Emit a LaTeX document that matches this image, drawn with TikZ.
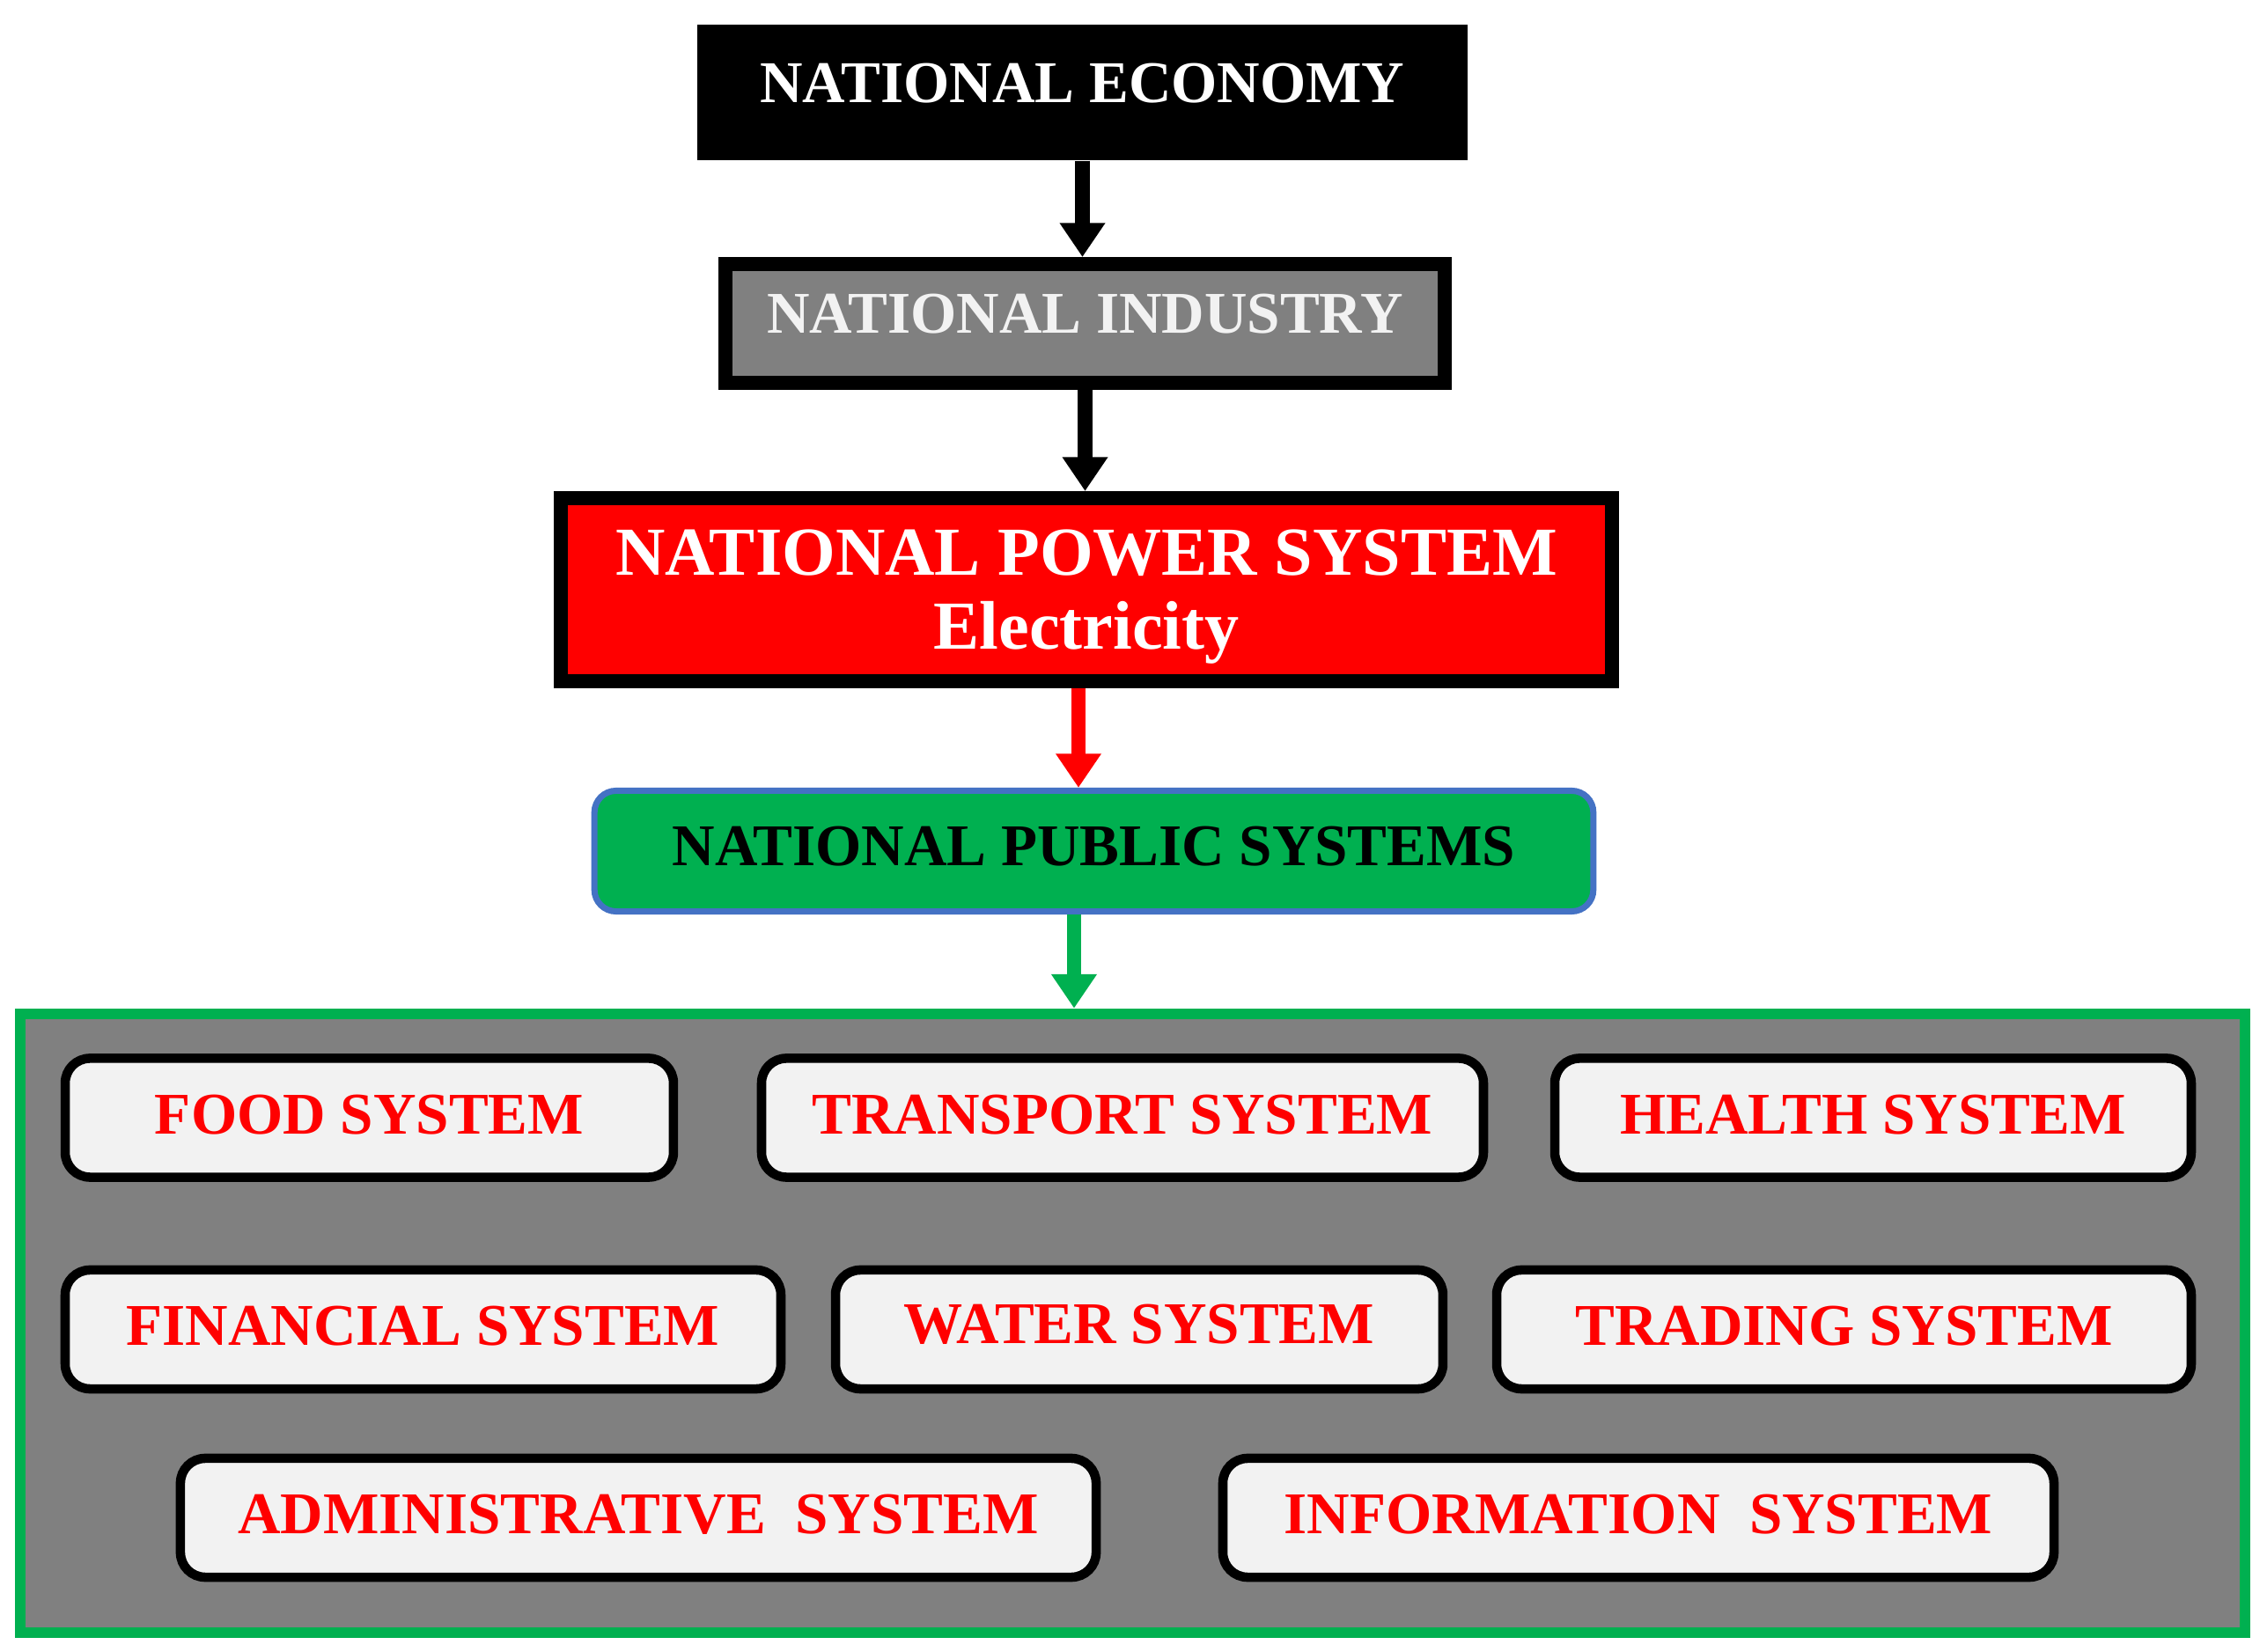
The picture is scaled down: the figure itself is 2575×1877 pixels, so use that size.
\documentclass[tikz,border=0pt]{standalone}
\usepackage{fontspec}
\setmainfont{Liberation Serif}
\usetikzlibrary{arrows.meta}
\definecolor{pgreen}{HTML}{00B050}
\definecolor{pblue}{HTML}{4472C4}
\definecolor{pgray}{HTML}{808080}
\definecolor{plight}{HTML}{F2F2F2}
\definecolor{pred}{HTML}{FF0000}
\tikzset{
 box/.style={font=\fontsize{19.1}{22}\selectfont\bfseries, inner sep=0pt, align=center, text height=12.9pt},
 sysbox/.style={box, draw=black, line width=3pt, fill=plight, rounded corners=8pt, text=pred, minimum height=1.35cm, text depth=2.5pt},
 flow/.style={line width=4.7pt, -{Triangle[width=14pt,length=11pt]}},
}
\begin{document}
\begin{tikzpicture}[x=0.01cm,y=-0.01cm]
\useasboundingbox (0,0) rectangle (2575,1877);
% top chain
\node[box, fill=black, text=white, minimum width=8.75cm, minimum height=1.54cm, text depth=6.2pt] (econ) at (1229.5,105) {NATIONAL ECONOMY};
\node[box, fill=pgray, draw=black, line width=4.5pt, text=plight, minimum width=8.17cm, minimum height=1.35cm, text depth=6.6pt] (ind) at (1232.5,367.5) {NATIONAL INDUSTRY};
\node[font=\fontsize{22.2}{23.8}\selectfont\bfseries, inner sep=0pt, align=center, fill=pred, draw=black, line width=4.5pt, text=white, minimum width=11.94cm, minimum height=2.08cm] (power) at (1234,670) {\rule{0pt}{19.3pt}NATIONAL POWER SYSTEM\\Electricity};
\node[box, fill=pgreen, draw=pblue, line width=2pt, rounded corners=7pt, text=black, minimum width=11.34cm, minimum height=1.37cm, text depth=3.4pt] (pub) at (1242.5,967) {NATIONAL PUBLIC SYSTEMS};
% container
\node[draw=pgreen, fill=pgray, line width=3.5pt, minimum width=25.25cm, minimum height=7.03cm, inner sep=0pt] (all) at (1286.5,1503.5) {};
% arrows
\draw[flow, black] (econ.south) -- (econ.south |- ind.north);
\draw[flow, black] (ind.south) -- (ind.south |- power.north);
\draw[flow, pred] ([xshift=-0.09cm]power.south) -- ([xshift=-0.09cm]power.south |- pub.north);
\draw[flow, pgreen] ([xshift=-0.225cm]pub.south) -- ([xshift=-0.225cm]pub.south |- all.north);
% row 1
\node[sysbox, minimum width=6.905cm] (food) at (419.5,1270) {FOOD SYSTEM};
\node[sysbox, minimum width=8.195cm] (transport) at (1275,1270) {TRANSPORT SYSTEM};
\node[sysbox, minimum width=7.225cm] (health) at (2127.5,1270) {HEALTH SYSTEM};
% row 2
\node[sysbox, minimum width=8.125cm] (financial) at (480.5,1510.5) {FINANCIAL SYSTEM};
\node[sysbox, minimum width=6.895cm, text depth=3.7pt] (water) at (1294,1510.5) {WATER SYSTEM};
\node[sysbox, minimum width=7.885cm] (trading) at (2094.5,1510.5) {TRADING SYSTEM};
% row 3
\node[sysbox, minimum width=10.395cm] (admin) at (725,1724.5) {ADMINISTRATIVE\ \ SYSTEM};
\node[sysbox, minimum width=9.435cm] (info) at (1861,1724.5) {INFORMATION\ \ SYSTEM};
\end{tikzpicture}
\end{document}
